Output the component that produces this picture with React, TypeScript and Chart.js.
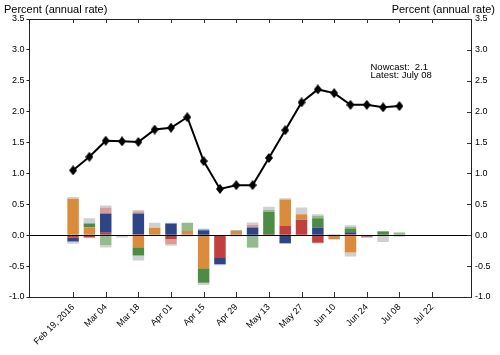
import React, { useEffect, useRef } from "react";
import { Chart, registerables } from "chart.js";

Chart.register(...registerables);

// ---------- data ----------
const weekDates = [
  "2016-02-19", "2016-02-26", "2016-03-04", "2016-03-11", "2016-03-18", "2016-03-25",
  "2016-04-01", "2016-04-08", "2016-04-15", "2016-04-22", "2016-04-29", "2016-05-06",
  "2016-05-13", "2016-05-20", "2016-05-27", "2016-06-03", "2016-06-10", "2016-06-17",
  "2016-06-24", "2016-07-01", "2016-07-08",
];
const nowcast = [1.05, 1.27, 1.53, 1.52, 1.51, 1.71, 1.74, 1.91, 1.2, 0.75, 0.81, 0.81, 1.25, 1.7, 2.15, 2.36, 2.3, 2.11, 2.11, 2.07, 2.09];

const redVals = [-0.04, -0.035, 0.04, -0.01, 0.02, 0, -0.065, 0, 0, -0.37, 0, 0, 0.02, 0.15, 0.25, -0.12, 0, 0.02, -0.025, 0, 0];
const orangeVals = [0.59, 0.13, 0, 0, -0.195, 0.12, 0, 0.07, -0.535, 0, 0.07, 0, 0, 0.43, 0.09, 0, -0.06, -0.28, 0, 0, 0];
const blueVals = [-0.06, 0, 0.31, 0, 0.33, 0, 0.19, 0, 0.08, -0.1, 0, 0.125, 0, -0.13, 0, 0.125, 0, 0.03, 0, 0, 0];
const greenVals = [0, 0.06, 0, 0, -0.135, 0, 0, 0, -0.235, 0, 0, 0, 0.36, 0, 0, 0.15, 0, 0.06, 0, 0.06, 0];
const lightRedVals = [0, 0, 0.1, 0, 0.04, 0, -0.08, 0, 0, 0, 0, 0.045, 0, 0, 0, 0, 0, 0, 0, 0, 0];
const lightGreenVals = [0, 0, -0.16, 0, 0, 0, 0, 0.13, 0, 0, 0, -0.2, 0.03, 0, 0, 0.035, 0, 0.025, 0, 0.01, 0.045];
const tealVals = [0, 0.015, 0, 0, 0, 0, 0, 0, 0.02, 0, 0.015, 0, 0, 0, 0, 0, 0, 0, 0, 0, 0];
const grayPosVals = [0.03, 0.07, 0.03, 0, 0.02, 0.08, 0.01, 0, 0.01, 0, 0, 0.035, 0.05, 0.02, 0.11, 0.03, 0.02, 0.025, 0, 0, 0];
const grayNegVals = [-0.04, -0.01, -0.04, -0.025, -0.08, 0, -0.025, -0.02, -0.035, -0.015, -0.02, -0.005, 0, -0.01, 0, -0.015, -0.015, -0.065, -0.02, -0.11, -0.025];

const tickDates = [
  "2016-02-19", "2016-03-04", "2016-03-18", "2016-04-01", "2016-04-15", "2016-04-29",
  "2016-05-13", "2016-05-27", "2016-06-10", "2016-06-24", "2016-07-08", "2016-07-22",
];
const tickLabels = ["Feb 19, 2016", "Mar 04", "Mar 18", "Apr 01", "Apr 15", "Apr 29", "May 13", "May 27", "Jun 10", "Jun 24", "Jul 08", "Jul 22"];

const xMinDays = -18.7;
const xMaxDays = 170.7;
const yMin = -1.0;
const yMax = 3.5;
const yStep = 0.5;

const axisTitle = "Percent (annual rate)";
const noteLines = ["Nowcast:  2.1", "Latest: July 08"];

// ---------- helpers ----------
const DAY = 86400000;
const origin = Date.parse(weekDates[0]);
const dayOf = (d: string) => (Date.parse(d) - origin) / DAY;
const weekDays = weekDates.map(dayOf);
const tickDays = tickDates.map(dayOf);

const FONT = '"Liberation Sans", Arial, Helvetica, sans-serif';

function makeDiamond(): HTMLCanvasElement {
  const c = document.createElement("canvas");
  c.width = 8;
  c.height = 10;
  const g = c.getContext("2d")!;
  g.fillStyle = "#000";
  g.beginPath();
  g.moveTo(4, 0);
  g.lineTo(8, 5);
  g.lineTo(4, 10);
  g.lineTo(0, 5);
  g.closePath();
  g.fill();
  return c;
}

const overlayPlugin = {
  id: "overlay",
  afterDatasetsDraw(chart: any) {
    const { ctx, chartArea, scales } = chart;
    const xs = scales.x;
    const ys = scales.y;
    ctx.save();
    // zero line
    const y0 = Math.round(ys.getPixelForValue(0)) + 0.5;
    ctx.strokeStyle = "#000";
    ctx.lineWidth = 1.2;
    ctx.beginPath();
    ctx.moveTo(chartArea.left, y0);
    ctx.lineTo(chartArea.right, y0);
    ctx.stroke();
    // inward ticks top / bottom
    ctx.strokeStyle = "#333";
    ctx.lineWidth = 1;
    tickDays.forEach((d) => {
      const px = Math.round(xs.getPixelForValue(d)) + 0.5;
      ctx.beginPath();
      ctx.moveTo(px, chartArea.top);
      ctx.lineTo(px, chartArea.top + 4);
      ctx.moveTo(px, chartArea.bottom);
      ctx.lineTo(px, chartArea.bottom - 5);
      ctx.stroke();
    });
    // inward ticks right
    scales.yR.ticks.forEach((t: any) => {
      const py = Math.round(scales.yR.getPixelForValue(t.value)) + 0.5;
      ctx.beginPath();
      ctx.moveTo(chartArea.right, py);
      ctx.lineTo(chartArea.right - 4, py);
      ctx.stroke();
    });
    // axis titles
    ctx.fillStyle = "#000";
    ctx.font = `11px ${FONT}`;
    ctx.textBaseline = "alphabetic";
    ctx.textAlign = "left";
    ctx.fillText(axisTitle, 4, 12.5);
    ctx.textAlign = "right";
    ctx.fillText(axisTitle, 495, 12.5);
    // note
    ctx.font = `9.5px ${FONT}`;
    ctx.textAlign = "left";
    ctx.fillText(noteLines[0], 370.5, 69.5);
    ctx.fillText(noteLines[1], 370.5, 78);
    ctx.restore();
  },
};

export default function App() {
  const ref = useRef<HTMLCanvasElement>(null);

  useEffect(() => {
    if (!ref.current) return;
    const pts = (vals: number[]) => vals.map((v, i) => ({ x: weekDays[i], y: v }));
    const bar = (label: string, vals: number[], color: string) => ({
      type: "bar" as const,
      label,
      data: pts(vals),
      backgroundColor: color,
      borderWidth: 0,
      xAxisID: "x",
      yAxisID: "y",
      barPercentage: 0.88,
      categoryPercentage: 0.8,
    });

    const chart = new Chart(ref.current, {
      type: "bar",
      data: {
        datasets: [
          {
            type: "line",
            label: "Nowcast",
            data: pts(nowcast) as any,
            borderColor: "#000",
            backgroundColor: "#000",
            borderWidth: 2,
            pointStyle: makeDiamond() as any,
            pointRadius: 4,
            xAxisID: "x",
            yAxisID: "yR",
            tension: 0,
          } as any,
          bar("Red", redVals, "#C0403F"),
          bar("Orange", orangeVals, "#DA8C3C"),
          bar("Blue", blueVals, "#2D4487"),
          bar("Green", greenVals, "#4E8C45"),
          bar("LightRed", lightRedVals, "#D89B97"),
          bar("LightGreen", lightGreenVals, "#94BB8D"),
          bar("Teal", tealVals, "#9CC3D3"),
          bar("OtherPos", grayPosVals, "#CFD0D4"),
          bar("OtherNeg", grayNegVals, "#CFD0D4"),
        ],
      },
      options: {
        responsive: false,
        animation: false,
        layout: { padding: 0 },
        plugins: { legend: { display: false }, tooltip: { enabled: false } },
        scales: {
          x: {
            type: "linear",
            position: "bottom",
            min: xMinDays,
            max: xMaxDays,
            stacked: true,
            offset: false,
            afterBuildTicks: (s: any) => {
              s.ticks = tickDays.map((v) => ({ value: v }));
            },
            afterFit: (s: any) => {
              s.height = 58;
            },
            grid: { display: true, drawOnChartArea: false, drawTicks: false, offset: false },
            border: { display: true, color: "#222", width: 1 },
            ticks: {
              autoSkip: false,
              minRotation: 45,
              maxRotation: 45,
              padding: 5,
              color: "#000",
              font: { family: FONT, size: 9 },
              callback: (_v: any, i: number) => tickLabels[i],
            },
          },
          xTop: {
            type: "linear",
            position: "top",
            min: xMinDays,
            max: xMaxDays,
            offset: false,
            afterBuildTicks: (s: any) => {
              s.ticks = tickDays.map((v) => ({ value: v }));
            },
            afterFit: (s: any) => {
              s.height = 19;
            },
            grid: { display: true, drawOnChartArea: false, drawTicks: false, offset: false },
            border: { display: true, color: "#222", width: 1 },
            ticks: { display: false },
          },
          y: {
            type: "linear",
            position: "left",
            min: yMin,
            max: yMax,
            stacked: true,
            afterFit: (s: any) => {
              s.width = 29.5;
            },
            grid: { display: true, drawOnChartArea: false, drawTicks: true, tickLength: 3, tickColor: "#222" },
            border: { display: true, color: "#222", width: 1 },
            ticks: {
              stepSize: yStep,
              padding: 2,
              color: "#000",
              font: { family: FONT, size: 9 },
              callback: (v: any) => Number(v).toFixed(1),
            },
          },
          yR: {
            type: "linear",
            position: "right",
            min: yMin,
            max: yMax,
            stacked: false,
            afterFit: (s: any) => {
              s.width = 29;
            },
            grid: { display: true, drawOnChartArea: false, drawTicks: false },
            border: { display: true, color: "#222", width: 1 },
            ticks: {
              stepSize: yStep,
              padding: 4,
              color: "#000",
              font: { family: FONT, size: 9 },
              callback: (v: any) => Number(v).toFixed(1),
            },
          },
        },
      } as any,
      plugins: [overlayPlugin],
    });
    return () => chart.destroy();
  }, []);

  return (
    <div style={{ position: "fixed", left: 0, top: 0, width: 500, height: 355, background: "#fff" }}>
      <canvas ref={ref} width={500} height={355} style={{ display: "block", width: 500, height: 355 }} />
    </div>
  );
}
